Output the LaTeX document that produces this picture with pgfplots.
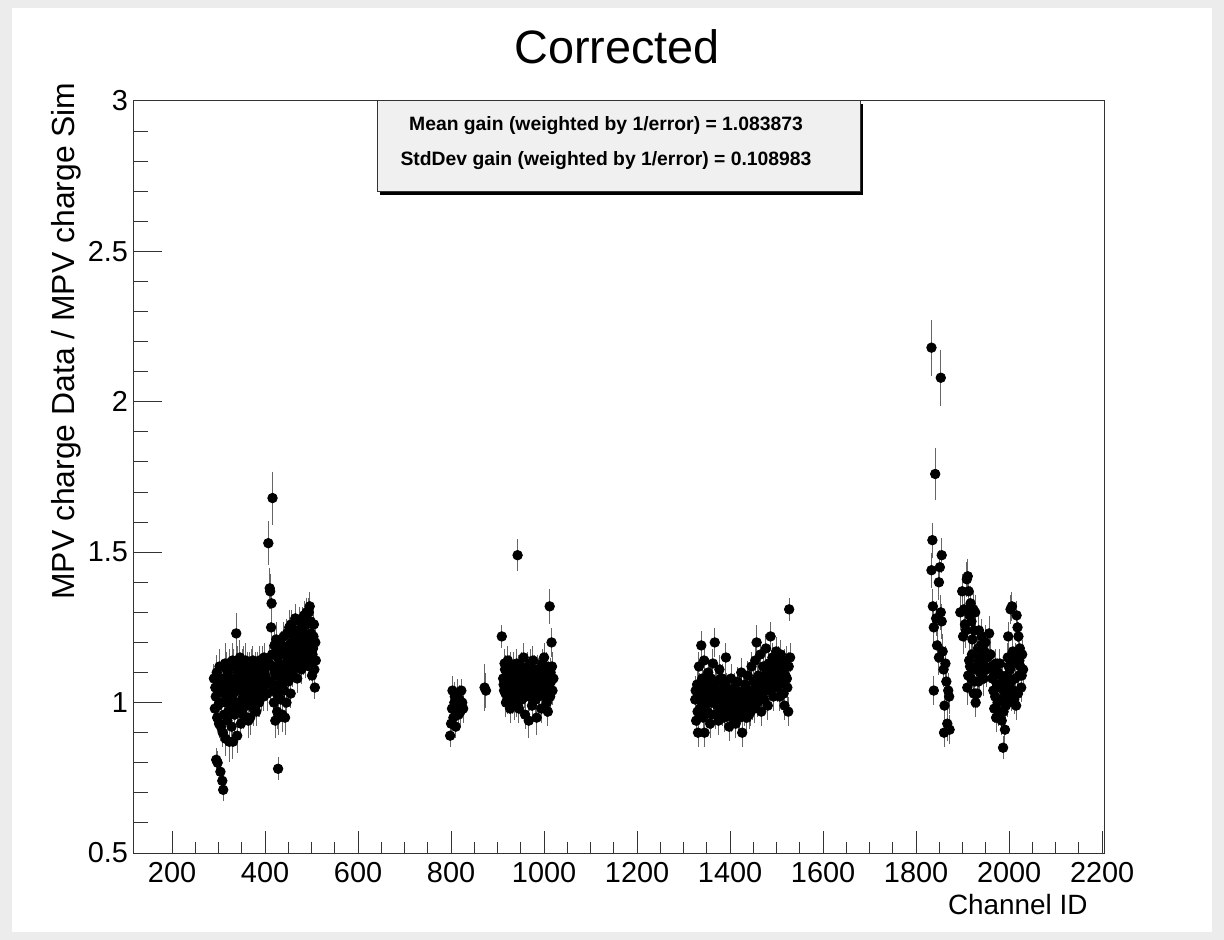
\documentclass[border=0pt]{standalone}
\usepackage{fontspec}
\setmainfont{Liberation Sans}
\usepackage{pgfplots}
\usepackage{pgfplotstable}
\pgfplotsset{compat=1.18}
\definecolor{canvasgray}{RGB}{236,236,236}
\definecolor{panegray}{RGB}{240,240,240}

\pgfplotstableread{
x y e
290 1.08 0.04
292 0.98 0.04
294 1.02 0.03
295 0.81 0.03
297 0.95 0.04
298 0.80 0.03
300 1.04 0.05
301 0.93 0.04
303 1.06 0.04
304 0.77 0.03
305 0.92 0.04
306 1.00 0.05
308 0.74 0.03
309 0.90 0.04
310 0.71 0.03
311 1.05 0.05
312 0.96 0.05
314 1.13 0.06
315 0.88 0.05
316 1.00 0.04
318 1.07 0.05
319 0.94 0.05
320 1.10 0.04
322 1.02 0.04
323 0.87 0.06
324 1.12 0.05
326 0.98 0.04
327 1.05 0.05
328 0.92 0.05
330 1.14 0.05
331 0.87 0.05
332 1.03 0.04
334 0.96 0.05
335 1.08 0.04
336 1.00 0.05
338 1.23 0.06
339 1.06 0.04
340 0.89 0.05
342 1.10 0.05
343 0.98 0.04
345 1.04 0.05
346 1.15 0.05
348 0.93 0.04
349 1.07 0.04
350 1.01 0.04
352 1.12 0.05
353 0.96 0.04
355 1.09 0.05
356 1.03 0.04
358 1.14 0.05
359 0.99 0.04
361 1.06 0.04
362 1.11 0.05
364 0.94 0.05
365 1.04 0.04
367 1.08 0.04
368 0.95 0.05
370 1.13 0.04
372 1.00 0.04
373 1.06 0.04
375 0.98 0.05
376 1.10 0.04
378 1.03 0.04
380 1.07 0.04
381 0.97 0.04
383 1.12 0.04
385 1.01 0.05
386 1.05 0.04
388 1.14 0.04
390 1.08 0.04
392 1.02 0.04
394 1.11 0.05
396 1.06 0.04
398 1.15 0.04
400 1.09 0.04
293 1.05 0.04
296 1.10 0.05
299 0.99 0.04
302 1.12 0.05
307 1.08 0.04
313 1.03 0.04
317 1.11 0.05
321 0.97 0.04
325 1.07 0.04
329 1.01 0.04
333 1.12 0.05
337 1.04 0.04
341 1.13 0.05
344 0.99 0.04
347 1.10 0.04
351 1.05 0.04
354 1.13 0.05
357 1.00 0.04
360 1.09 0.04
363 1.02 0.04
366 1.12 0.04
369 1.04 0.04
371 1.09 0.04
374 1.14 0.04
377 1.06 0.04
379 1.12 0.04
382 1.04 0.04
384 1.09 0.04
387 1.00 0.04
389 1.12 0.04
391 1.05 0.04
393 1.08 0.04
395 1.14 0.04
397 1.02 0.04
399 1.11 0.04
402 1.06 0.04
405 1.03 0.05
407 1.53 0.065
409 1.13 0.05
410 1.38 0.06
411 1.37 0.05
412 1.07 0.05
413 1.25 0.05
414 1.33 0.05
416 1.68 0.08
417 1.12 0.05
419 1.00 0.04
420 1.19 0.05
422 0.94 0.05
423 1.09 0.04
425 1.03 0.05
427 1.15 0.05
428 0.78 0.03
429 0.95 0.05
430 1.06 0.04
432 1.17 0.04
434 1.01 0.05
435 1.11 0.04
437 0.96 0.05
438 1.08 0.04
440 1.22 0.04
441 1.04 0.05
443 0.95 0.05
444 1.13 0.04
446 1.00 0.04
448 1.18 0.04
450 1.07 0.04
452 1.25 0.05
453 1.14 0.04
455 1.03 0.04
457 1.20 0.04
458 1.10 0.04
460 1.16 0.04
462 1.23 0.04
463 1.12 0.04
465 1.28 0.04
467 1.18 0.04
469 1.08 0.04
470 1.22 0.04
472 1.15 0.04
474 1.27 0.04
476 1.19 0.04
478 1.11 0.04
480 1.24 0.04
482 1.17 0.04
484 1.29 0.04
486 1.21 0.04
488 1.13 0.04
490 1.26 0.04
492 1.19 0.04
494 1.30 0.04
496 1.32 0.04
497 1.15 0.04
499 1.23 0.04
501 1.09 0.04
503 1.18 0.04
505 1.26 0.04
507 1.05 0.03
509 1.14 0.04
415 1.16 0.05
418 1.04 0.05
421 1.10 0.05
424 1.21 0.05
426 0.97 0.05
431 1.13 0.04
433 1.05 0.04
436 1.19 0.04
439 1.10 0.04
442 1.16 0.04
445 1.07 0.04
447 1.23 0.04
449 1.12 0.04
451 1.19 0.04
454 1.09 0.04
456 1.26 0.04
459 1.15 0.04
461 1.21 0.04
464 1.17 0.04
466 1.24 0.04
468 1.14 0.04
471 1.20 0.04
473 1.12 0.04
475 1.24 0.04
477 1.16 0.04
479 1.20 0.04
481 1.27 0.04
483 1.14 0.04
485 1.23 0.04
487 1.18 0.04
489 1.30 0.04
491 1.16 0.04
493 1.22 0.04
495 1.12 0.04
498 1.27 0.04
500 1.20 0.04
502 1.16 0.04
504 1.22 0.04
506 1.11 0.04
508 1.20 0.04
}\groupA

\pgfplotstableread{
x y e
798 0.89 0.03
800 0.93 0.03
802 0.98 0.04
803 1.04 0.04
805 0.95 0.03
807 1.00 0.04
808 1.02 0.04
810 0.92 0.03
812 0.99 0.04
814 1.03 0.04
816 0.96 0.04
818 1.01 0.04
820 0.97 0.04
822 1.04 0.03
824 1.00 0.04
826 0.98 0.04
872 1.05 0.07
875 1.04 0.05
909 1.22 0.03
912 1.08 0.04
914 1.04 0.04
916 1.11 0.04
918 1.00 0.04
920 1.06 0.04
922 1.14 0.04
923 1.02 0.04
925 1.09 0.04
927 0.98 0.04
928 1.12 0.04
930 1.05 0.04
932 1.01 0.04
934 1.10 0.04
936 0.99 0.04
937 1.07 0.04
939 1.03 0.04
941 1.13 0.04
943 1.49 0.045
944 1.06 0.04
946 0.98 0.04
948 1.04 0.04
950 1.09 0.04
952 1.01 0.04
954 1.07 0.04
956 1.15 0.04
957 1.03 0.04
959 0.96 0.04
961 1.08 0.04
963 1.05 0.04
965 1.12 0.04
967 0.94 0.05
968 1.02 0.04
970 1.10 0.04
972 1.06 0.04
974 0.99 0.04
976 1.14 0.04
978 1.04 0.04
980 1.08 0.04
982 1.01 0.04
984 0.95 0.05
986 1.11 0.04
988 1.06 0.04
990 1.03 0.04
992 1.09 0.04
994 0.98 0.04
996 1.13 0.04
998 1.05 0.04
1000 1.15 0.04
1002 1.02 0.04
1004 1.08 0.04
1006 1.00 0.04
1008 0.97 0.04
1010 1.06 0.04
1012 1.32 0.05
1014 1.10 0.04
1016 1.20 0.04
1018 1.04 0.04
1020 1.08 0.04
913 1.06 0.04
915 1.13 0.04
917 1.03 0.04
919 1.09 0.04
921 1.01 0.04
924 1.07 0.04
926 1.11 0.04
929 1.03 0.04
931 1.08 0.04
933 1.04 0.04
935 1.12 0.04
938 1.05 0.04
940 1.00 0.04
942 1.08 0.04
945 1.11 0.04
947 1.02 0.04
949 1.06 0.04
951 1.12 0.04
953 1.04 0.04
955 1.09 0.04
958 1.06 0.04
960 1.02 0.04
962 1.11 0.04
964 1.07 0.04
966 1.03 0.04
969 1.05 0.04
971 1.13 0.04
973 1.08 0.04
975 1.02 0.04
977 1.06 0.04
979 1.11 0.04
981 1.04 0.04
983 1.09 0.04
985 1.07 0.04
987 1.02 0.04
989 1.10 0.04
991 1.05 0.04
993 1.07 0.04
995 1.03 0.04
997 1.09 0.04
999 1.06 0.04
1001 1.10 0.04
1003 1.05 0.04
1005 1.12 0.04
1007 1.03 0.04
1009 1.09 0.04
1011 1.05 0.04
1013 1.02 0.04
1015 1.07 0.04
1017 1.12 0.04
}\groupB

\pgfplotstableread{
x y e
1325 1.01 0.04
1327 0.94 0.04
1329 1.06 0.04
1331 0.90 0.04
1333 1.12 0.04
1335 0.98 0.04
1337 1.03 0.04
1338 1.19 0.04
1340 1.08 0.04
1342 0.95 0.04
1344 1.14 0.04
1345 0.90 0.04
1347 1.01 0.04
1349 1.06 0.04
1351 0.97 0.04
1353 1.10 0.04
1355 1.03 0.04
1357 0.93 0.04
1359 1.08 0.04
1361 1.00 0.04
1363 1.13 0.04
1365 1.04 0.04
1367 1.20 0.04
1369 0.96 0.04
1371 1.07 0.04
1373 1.01 0.04
1375 0.94 0.04
1377 1.11 0.04
1379 1.04 0.04
1381 0.98 0.04
1383 1.08 0.04
1385 1.02 0.04
1387 0.95 0.04
1389 1.06 0.04
1391 1.15 0.04
1393 1.00 0.04
1395 0.97 0.04
1397 1.04 0.04
1398 0.92 0.04
1400 0.99 0.04
1402 1.08 0.04
1404 0.95 0.04
1406 1.02 0.04
1408 0.98 0.04
1410 1.05 0.04
1412 0.93 0.04
1414 1.00 0.04
1416 1.07 0.04
1418 0.96 0.04
1420 1.03 0.04
1422 0.99 0.04
1424 1.10 0.04
1426 0.90 0.04
1428 1.01 0.04
1430 0.97 0.04
1432 1.06 0.04
1434 1.02 0.04
1436 0.95 0.04
1438 1.09 0.04
1440 1.00 0.04
1442 1.04 0.04
1444 0.97 0.04
1446 1.12 0.04
1448 1.02 0.04
1450 1.07 0.04
1452 0.98 0.04
1454 1.14 0.04
1456 1.05 0.04
1457 1.20 0.05
1459 1.00 0.04
1461 1.09 0.04
1463 1.03 0.04
1465 1.16 0.04
1467 0.97 0.04
1469 1.07 0.04
1471 1.12 0.04
1473 1.01 0.04
1475 1.05 0.04
1477 1.18 0.04
1479 1.09 0.04
1481 0.99 0.04
1483 1.13 0.04
1485 1.04 0.04
1487 1.22 0.04
1489 1.10 0.04
1491 1.15 0.04
1493 1.02 0.04
1495 1.08 0.04
1497 1.12 0.04
1499 1.17 0.04
1501 1.05 0.04
1503 1.14 0.04
1505 1.10 0.04
1507 1.02 0.04
1509 1.16 0.04
1511 1.07 0.04
1513 1.12 0.04
1515 1.03 0.04
1517 0.99 0.04
1519 1.09 0.04
1521 1.14 0.04
1523 1.05 0.04
1525 0.97 0.04
1527 1.31 0.03
1529 1.15 0.04
1326 1.04 0.04
1330 0.97 0.04
1334 1.05 0.04
1339 1.00 0.04
1343 1.06 0.04
1348 0.99 0.04
1352 1.04 0.04
1356 1.07 0.04
1360 0.96 0.04
1364 1.01 0.04
1368 1.05 0.04
1372 0.99 0.04
1376 1.03 0.04
1380 1.08 0.04
1384 0.97 0.04
1388 1.01 0.04
1392 1.05 0.04
1396 0.99 0.04
1401 1.03 0.04
1405 0.98 0.04
1409 1.01 0.04
1413 0.97 0.04
1417 1.02 0.04
1421 0.95 0.04
1425 1.00 0.04
1429 1.04 0.04
1433 0.98 0.04
1437 1.01 0.04
1441 0.96 0.04
1445 1.03 0.04
1449 0.99 0.04
1453 1.04 0.04
1458 1.08 0.04
1462 1.02 0.04
1466 1.06 0.04
1470 1.03 0.04
1474 1.09 0.04
1478 1.04 0.04
1482 1.07 0.04
1486 1.11 0.04
1490 1.06 0.04
1494 1.12 0.04
1498 1.07 0.04
1502 1.10 0.04
1506 1.06 0.04
1510 1.11 0.04
1514 1.08 0.04
1518 1.13 0.04
1522 1.08 0.04
1526 1.12 0.04
}\groupC

\pgfplotstableread{
x y e
1833 2.18 0.085
1853 2.08 0.085
1841 1.76 0.08
1835 1.54 0.05
1855 1.49 0.05
1833 1.44 0.05
1851 1.45 0.05
1849 1.40 0.05
1836 1.32 0.05
1853 1.30 0.05
1838 1.25 0.05
1855 1.27 0.05
1843 1.28 0.05
1857 1.17 0.05
1849 1.15 0.05
1863 1.13 0.05
1845 1.19 0.05
1859 1.11 0.05
1838 1.04 0.04
1869 1.04 0.05
1871 1.02 0.05
1861 0.99 0.05
1867 0.93 0.05
1860 0.90 0.04
1872 0.91 0.04
1865 1.07 0.05
1895 1.30 0.05
1899 1.37 0.05
1903 1.31 0.05
1907 1.24 0.05
1909 1.41 0.05
1911 1.42 0.05
1913 1.37 0.05
1905 1.26 0.05
1901 1.22 0.05
1915 1.29 0.05
1917 1.33 0.05
1919 1.27 0.05
1921 1.21 0.05
1923 1.31 0.05
1927 1.30 0.05
1925 1.24 0.05
1935 1.24 0.05
1914 1.14 0.05
1912 1.09 0.05
1910 1.05 0.05
1916 1.12 0.05
1918 1.08 0.05
1920 1.16 0.05
1922 1.11 0.05
1924 1.03 0.04
1926 1.07 0.05
1928 1.00 0.04
1931 1.03 0.04
1933 1.18 0.05
1935 1.14 0.05
1937 1.10 0.05
1939 1.19 0.05
1941 1.22 0.05
1943 1.13 0.05
1945 1.08 0.05
1947 1.17 0.05
1949 1.20 0.05
1951 1.11 0.05
1953 1.15 0.05
1957 1.23 0.05
1960 1.16 0.05
1962 1.12 0.05
1964 1.08 0.04
1966 1.04 0.04
1968 0.98 0.04
1970 1.02 0.04
1972 0.95 0.04
1974 1.06 0.04
1976 1.10 0.04
1978 0.97 0.04
1980 1.13 0.04
1982 1.01 0.04
1984 0.94 0.04
1986 1.07 0.04
1987 0.85 0.03
1989 1.04 0.04
1991 0.91 0.04
1993 0.99 0.04
1995 1.09 0.04
1997 1.15 0.04
1998 1.22 0.04
2000 1.06 0.04
2002 1.11 0.04
2003 1.31 0.04
2005 1.02 0.04
2006 1.32 0.04
2008 1.17 0.04
2010 1.13 0.04
2011 1.01 0.04
2013 1.08 0.04
2015 0.99 0.04
2016 1.29 0.04
2018 1.25 0.04
2020 1.22 0.04
2021 1.09 0.04
2022 1.14 0.04
2024 1.12 0.04
2026 1.05 0.04
2028 1.16 0.04
2030 1.11 0.04
1967 1.09 0.04
1971 1.13 0.04
1975 1.00 0.04
1979 1.05 0.04
1983 1.09 0.04
1988 0.97 0.04
1992 1.03 0.04
1996 1.00 0.04
1999 1.12 0.04
2004 1.07 0.04
2009 1.04 0.04
2014 1.15 0.04
2019 1.03 0.04
2023 1.18 0.04
2027 1.09 0.04
1930 1.12 0.05
1934 1.07 0.05
1938 1.15 0.05
1942 1.17 0.05
1946 1.12 0.05
}\groupD

\pgfplotsset{
  rootpts/.style={only marks, mark=*, mark size=2.4pt, black,
    error bars/.cd, y dir=both, y explicit,
    error bar style={black!60, line width=0.5bp},
    error mark options={black!60, mark size=1.2pt, line width=0.5bp}},
  rootframe/.style={
    at={(66.5bp,43.5bp)}, anchor=south west,
    scale only axis, width=485.5bp, height=376bp,
    xmin=116, xmax=2204, ymin=0.5, ymax=3,
    tick align=inside, xtick pos=bottom, ytick pos=left,
    axis line style={black!80, line width=0.5bp},
    tick style={black!80, line width=0.5bp},
    scaled x ticks=false, scaled y ticks=false,
    /pgf/number format/assume math mode=true,
    /pgf/number format/1000 sep={},
    tick label style={font=\fontsize{14.5}{17}\selectfont},
  },
}

\begin{document}
\begin{tikzpicture}
\fill[canvasgray] (0,0) rectangle (612bp,470bp);
\fill[white] (6bp,4bp) rectangle (606bp,466bp);
% y-axis ticks (longer, as in the original)
\begin{axis}[rootframe,
  xtick=\empty, ytick={0.5,1,1.5,2,2.5,3}, minor y tick num=4,
  major tick length=14.5bp, minor tick length=7.3bp,
  yticklabel style={xshift=1bp},
]
\end{axis}
\begin{axis}[rootframe,
  ytick=\empty, xtick={200,400,...,2200}, minor x tick num=3,
  major tick length=11bp, minor tick length=5.5bp,
  xticklabel style={yshift=-1bp},
]
\addplot[rootpts] table[x=x, y=y, y error=e] {\groupA};
\addplot[rootpts] table[x=x, y=y, y error=e] {\groupB};
\addplot[rootpts] table[x=x, y=y, y error=e] {\groupC};
\addplot[rootpts] table[x=x, y=y, y error=e] {\groupD};
\end{axis}
% stats box
\fill[black] (190bp,372.5bp) rectangle (431.5bp,418bp);
\filldraw[fill=panegray, draw=black!80, line width=0.5bp] (188.5bp,374bp) rectangle (430bp,419.5bp);
\node[font=\bfseries\fontsize{9.7}{11}\selectfont] at (303bp,407bp) {Mean gain (weighted by 1/error) = 1.083873};
\node[font=\bfseries\fontsize{9.7}{11}\selectfont] at (303bp,389.5bp) {StdDev gain (weighted by 1/error) = 0.108983};
% title and labels
\node[font=\fontsize{23.5}{28}\selectfont] at (308.5bp,446.5bp) {Corrected};
\node[font=\fontsize{14}{17}\selectfont, anchor=east, inner sep=0pt] at (544bp,17.5bp) {Channel ID};
\node[font=\fontsize{16}{19}\selectfont, rotate=90, anchor=east, inner sep=0pt] at (33bp,429bp) {MPV charge Data / MPV charge Sim};
\end{tikzpicture}
\end{document}
